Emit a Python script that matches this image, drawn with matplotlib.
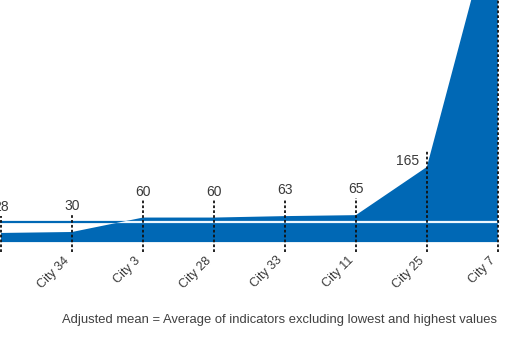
import matplotlib.pyplot as plt

plt.rcParams['font.family'] = ['Liberation Sans', 'DejaVu Sans']

# data
cities = ["City 18", "City 34", "City 3", "City 28", "City 33", "City 11", "City 25", "City 7"]
values = [28, 30, 60, 60, 63, 65, 165, 720]
adjusted_mean = 51
caption = "Adjusted mean = Average of indicators excluding lowest and highest values"

BLUE = "#0068b5"
TEXT = "#3a3a3a"
FILL_BASE = 9


def main():
    fig = plt.figure(figsize=(5.12, 3.41), dpi=100)
    ax = fig.add_axes([0, 0.258, 1, 0.742])
    x = list(range(len(cities)))

    # adjusted mean, blue outside the area
    ax.plot([-1, x[-1]], [adjusted_mean, adjusted_mean], color=BLUE, lw=1.6, zorder=2)
    area = ax.fill_between(x, values, FILL_BASE, color=BLUE, lw=0, zorder=3)
    # same line in white where it crosses the area
    inner, = ax.plot([-1, x[-1]], [adjusted_mean, adjusted_mean], color="#eef8ff", lw=1.6, zorder=4)
    inner.set_clip_path(area.get_paths()[0], transform=ax.transData)

    ymax = 512
    for i, v in enumerate(values):
        ax.plot([i, i], [-12, min(v + 36, ymax + 10)], color="#111111", lw=1.3,
                 ls=(0, (1.5, 1.2)), zorder=5)
        if v > ymax:
            continue
        if i == len(values) - 2:
            ax.text(i - 0.11, v + 13, str(v), ha="right", va="center", fontsize=10, color=TEXT)
        else:
            ax.text(i, v + 54, str(v), ha="center", va="center", fontsize=10, color=TEXT)

    ax.set_xlim(-0.015, 7.2)
    ax.set_ylim(-13.7, ymax)
    ax.set_xticks(x)
    ax.set_xticklabels(cities, rotation=45, ha="right", fontsize=9, color=TEXT)
    ax.tick_params(axis="x", length=0, pad=1)
    ax.set_yticks([])
    for s in ax.spines.values():
        s.set_visible(False)

    fig.text(0.971, 0.062, caption, ha="right", va="center", fontsize=9.4, color="#404040")
    fig.savefig("out.png", dpi=100)


if __name__ == "__main__":
    main()
